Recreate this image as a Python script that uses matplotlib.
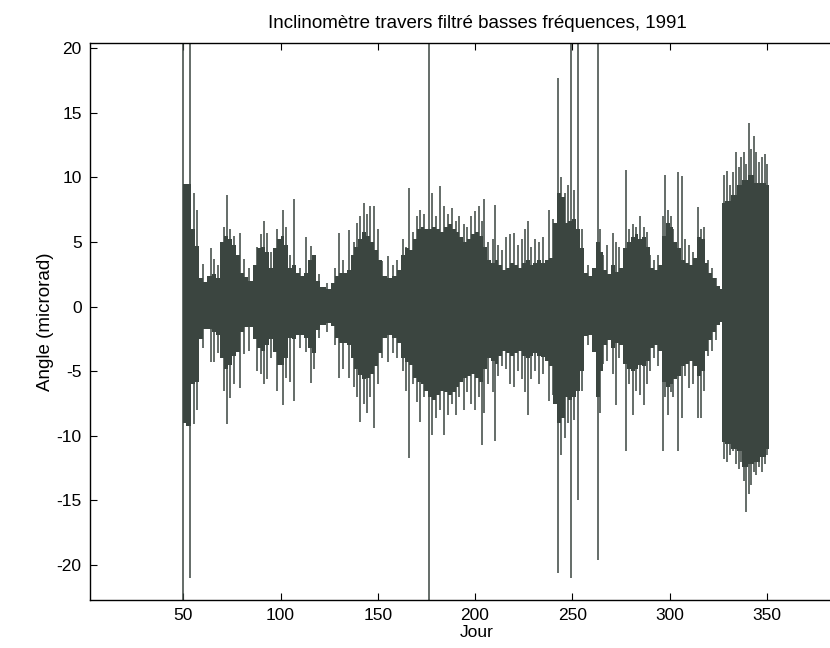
import matplotlib.pyplot as plt

plt.rcParams['font.family'] = ['Liberation Sans', 'DejaVu Sans']
plt.rcParams['axes.unicode_minus'] = False

# dense low-frequency band: day, upper and lower edge (microrad)
core_days = [50, 53, 55, 57, 59, 61, 63, 66, 68, 70, 72, 74, 76, 78, 80, 82, 85, 87, 89, 91,
             93, 95, 97, 99, 101, 103, 105, 107, 109, 111, 113, 115, 117, 119, 122, 125, 127, 129, 131, 133,
             135, 137, 139, 141, 143, 145, 147, 149, 151, 153, 156, 159, 161, 163, 165, 167, 169, 171, 173, 175,
             177, 179, 181, 183, 185, 187, 189, 191, 193, 195, 197, 199, 201, 203, 205, 207, 209, 211, 213, 215,
             217, 219, 221, 223, 225, 227, 229, 231, 233, 235, 237, 239, 241, 243, 245, 247, 249, 251, 253, 255,
             257, 259, 261, 263, 265, 267, 269, 271, 273, 275, 277, 279, 281, 283, 285, 287, 289, 291, 293, 295,
             297, 299, 301, 303, 305, 307, 309, 311, 313, 315, 317, 319, 321, 323, 325, 326.5, 327.5, 330, 333, 336,
             339, 342, 345, 348, 351]
core_hi = [9.5, 9.5, 6.0, 4.7, 2.2, 1.9, 2.4, 2.5, 2.2, 5.0, 5.5, 5.2, 4.8, 4.0, 2.6, 2.3, 2.0, 3.2, 4.5, 4.6,
           4.2, 3.0, 4.5, 5.2, 5.5, 4.8, 3.0, 3.2, 2.6, 2.4, 2.6, 3.6, 4.0, 2.0, 1.5, 1.4, 1.8, 2.4, 2.6, 2.6,
           2.8, 4.0, 4.6, 5.2, 5.8, 5.5, 5.0, 4.4, 3.6, 2.4, 2.2, 2.4, 2.8, 4.0, 4.5, 4.4, 5.2, 6.0, 6.2, 6.0,
           6.0, 6.2, 6.0, 5.8, 6.2, 6.4, 6.0, 5.8, 5.4, 5.0, 5.2, 5.6, 5.8, 5.5, 4.6, 3.6, 3.4, 3.6, 3.2, 2.8,
           3.0, 3.4, 3.2, 3.0, 3.4, 3.6, 3.2, 3.4, 3.6, 3.4, 3.6, 3.8, 6.5, 8.8, 8.5, 6.5, 6.6, 6.8, 6.0, 4.5,
           2.6, 2.4, 3.0, 5.0, 4.2, 2.8, 2.5, 3.2, 2.7, 3.0, 4.5, 5.0, 5.4, 5.6, 5.2, 5.4, 4.6, 3.0, 2.8, 3.2,
           5.5, 6.5, 6.2, 5.0, 4.5, 3.6, 3.4, 3.2, 3.8, 5.4, 5.2, 3.4, 2.6, 2.2, 1.6, 1.4, 8.0, 8.2, 8.6, 9.4,
           9.8, 10.2, 9.6, 9.6, 9.4]
core_lo = [-9.0, -9.2, -6.0, -5.8, -2.5, -1.7, -1.7, -2.0, -2.2, -4.0, -4.8, -4.5, -3.8, -3.5, -2.0, -1.6, -1.6, -2.5, -3.2, -3.4,
           -3.0, -2.5, -3.5, -4.5, -4.5, -4.0, -2.4, -2.5, -2.2, -2.2, -2.4, -3.2, -3.6, -1.8, -1.4, -1.3, -1.5, -2.4, -2.8, -2.8,
           -3.0, -4.0, -4.8, -5.3, -5.6, -5.5, -5.2, -4.6, -3.6, -2.4, -2.2, -2.4, -2.8, -4.0, -4.3, -4.5, -5.5, -5.8, -6.0, -6.5,
           -7.0, -7.2, -6.8, -6.5, -6.6, -6.8, -6.6, -6.2, -5.8, -5.5, -5.4, -5.2, -5.5, -5.8, -4.8, -4.0, -4.2, -4.4, -3.8, -3.4,
           -3.6, -3.8, -3.6, -3.4, -3.8, -4.0, -3.8, -3.6, -3.8, -3.9, -4.2, -4.6, -7.5, -9.0, -8.6, -7.0, -7.2, -7.0, -6.5, -5.0,
           -2.3, -2.2, -3.5, -7.0, -5.0, -3.0, -2.6, -3.2, -2.8, -3.0, -4.4, -4.8, -5.0, -4.8, -4.5, -4.6, -4.2, -3.2, -3.0, -3.4,
           -5.8, -6.2, -6.0, -5.6, -5.4, -4.6, -4.4, -4.2, -4.6, -5.4, -5.0, -3.4, -2.6, -2.0, -1.4, -1.2, -10.5, -10.6, -11.0, -11.2,
           -12.4, -12.2, -12.0, -11.6, -11.0]

# individual peaks: day, top, bottom
spike_days = [50, 53.5, 55.5, 57, 60, 64, 66, 68, 71, 72.5, 74, 76, 79, 81, 84, 88, 90, 91.5, 93, 95,
              98, 101, 103, 105, 107, 110, 113, 115.5, 117, 120, 124, 128, 130, 132, 135, 137.5, 139.5, 141, 142.8, 144.5,
              146, 148, 150, 152, 155, 158, 160, 163, 164.5, 166, 168, 170, 171.5, 173.5, 176.5, 178, 180, 182, 184, 186,
              188, 190, 192, 194.5, 196, 198, 200, 202, 203.5, 204.5, 206.5, 209, 210.5, 212, 214, 216, 218, 219.8, 222, 224,
              225.5, 227, 229, 231, 233, 235, 238.2, 240, 242.6, 244, 246, 248, 249.5, 251, 253, 255, 258, 263.3, 264.5, 266,
              268, 271, 272.5, 274, 277.5, 279, 281, 283, 285, 287, 288.5, 290, 292, 294, 296.7, 297.5, 299, 300.5, 302, 304.2,
              306.2, 308, 310, 312, 314.6, 316, 317.5, 320, 322, 324, 328, 329.5, 331, 332.5, 334, 335.5, 337, 338.5, 339.5, 340.8,
              342, 343.2, 344.5, 346, 347.5, 349, 350.3]
spike_hi = [21, 21, 8.8, 7.5, 3.3, 4.5, 3.7, 3.2, 6.2, 8.6, 6.0, 5.5, 5.7, 3.7, 3.0, 4.6, 5.6, 6.6, 5.7, 4.2,
            6.0, 7.5, 6.2, 4.0, 8.3, 3.0, 5.4, 4.7, 3.6, 2.5, 1.8, 3.0, 5.7, 3.6, 5.9, 5.0, 6.5, 7.0, 8.0, 7.2,
            7.8, 7.8, 6.0, 3.5, 3.9, 3.2, 3.6, 5.2, 4.6, 9.2, 5.8, 7.0, 7.5, 7.2, 21, 8.8, 7.0, 9.3, 7.8, 7.2,
            7.6, 6.6, 7.0, 6.4, 6.2, 7.0, 7.4, 7.8, 6.6, 8.3, 5.0, 5.2, 7.9, 4.8, 4.4, 5.4, 5.6, 5.7, 4.8, 5.2,
            6.0, 6.6, 4.6, 5.2, 5.0, 5.4, 7.5, 6.8, 17.7, 10.0, 8.8, 9.4, 21, 9.0, 21, 6.0, 3.2, 21, 6.0, 4.0,
            4.8, 5.7, 5.0, 4.6, 10.6, 6.0, 6.4, 6.2, 7.0, 6.2, 5.8, 4.0, 3.6, 4.0, 7.0, 10.2, 7.5, 7.0, 6.0, 10.4,
            10.1, 5.2, 4.8, 4.2, 7.7, 6.0, 6.2, 3.6, 3.0, 2.2, 10.2, 10.5, 9.4, 10.4, 12.0, 10.8, 11.6, 12.0, 11.0, 14.2,
            12.2, 13.2, 12.0, 11.2, 11.6, 11.8, 11.0]
spike_lo = [-23, -21.0, -9.1, -8.0, -3.2, -4.3, -4.3, -3.6, -6.5, -9.1, -7.1, -6.0, -6.3, -3.7, -3.4, -5.0, -5.2, -6.0, -5.6, -4.0,
            -6.5, -7.6, -5.5, -5.8, -7.3, -3.2, -3.5, -5.9, -4.8, -2.4, -2.0, -3.0, -5.5, -4.8, -5.5, -6.2, -7.0, -8.9, -7.5, -8.2,
            -7.0, -9.4, -6.0, -4.0, -4.3, -3.6, -4.0, -5.0, -6.5, -11.7, -6.0, -7.4, -8.9, -7.0, -23, -9.9, -8.6, -8.0, -9.9, -8.4,
            -7.5, -8.4, -7.0, -8.0, -6.6, -7.5, -8.0, -7.0, -10.7, -8.2, -6.0, -6.6, -10.4, -5.4, -4.6, -4.8, -6.0, -6.2, -5.0, -5.6,
            -6.6, -8.4, -5.6, -5.0, -6.0, -5.2, -7.3, -6.8, -20.6, -11.5, -10.2, -9.0, -21.0, -8.8, -15.0, -6.5, -3.0, -19.6, -8.2, -4.4,
            -4.2, -5.2, -7.6, -4.0, -11.2, -6.0, -8.4, -6.5, -6.8, -7.6, -6.0, -5.0, -4.0, -4.6, -11.2, -7.0, -8.4, -6.6, -7.0, -11.2,
            -8.6, -5.4, -6.3, -6.0, -8.6, -8.6, -6.5, -3.8, -3.4, -2.6, -11.8, -12.0, -11.5, -11.2, -12.2, -12.6, -12.0, -13.5, -15.9, -14.5,
            -13.8, -12.8, -13.0, -12.4, -12.8, -12.2, -11.5]

x_ticks = [50, 100, 150, 200, 250, 300, 350]
y_ticks = [-20, -15, -10, -5, 0, 5, 10, 15, 20]

fig = plt.figure(figsize=(8.3, 6.48), dpi=100)
# axes run past the right edge, like the cropped scan
ax = fig.add_axes([90 / 830, 48 / 648, 774 / 830, 557 / 648])

col = '#3b4540'
ax.fill_between(core_days, core_lo, core_hi, step='mid', color=col, lw=0)
ax.vlines(spike_days, spike_lo, spike_hi, color=col, lw=1.1)

ax.set_xlim(2, 400)
ax.set_ylim(-22.7, 20.4)
ax.set_xticks(x_ticks)
ax.set_yticks(y_ticks)
ax.tick_params(direction='in', length=5, width=0.8, top=True, right=True,
               labelsize=12.5, pad=6)
for s in ax.spines.values():
    s.set_linewidth(1.0)

ax.set_title('Inclinomètre travers filtré basses fréquences, 1991', fontsize=13.5, pad=11)
ax.set_xlabel('Jour', fontsize=12.5, labelpad=1)
ax.set_ylabel('Angle (microrad)', fontsize=13.5, labelpad=2)

fig.savefig('out.png', dpi=100)
